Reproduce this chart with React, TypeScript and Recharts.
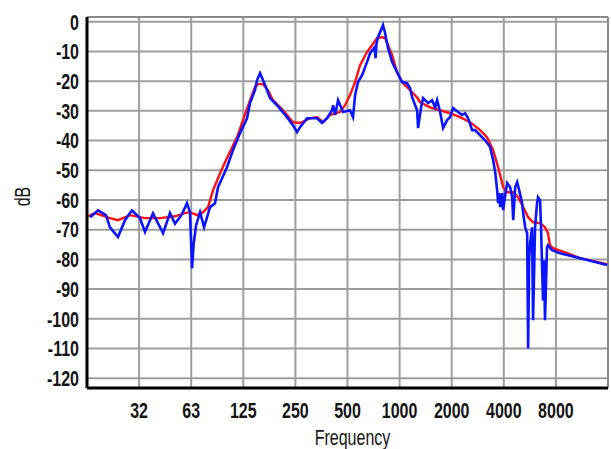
import { CartesianGrid, Label, Line, LineChart, ReferenceLine, XAxis, YAxis } from "recharts"

// frequency axis: octaves from 31.25 Hz, labelled with nominal values
const xTicks = [31.25, 62.5, 125, 250, 500, 1000, 2000, 4000, 8000]
const xLabels = ["32", "63", "125", "250", "500", "1000", "2000", "4000", "8000"]
const yTicks = [0, -10, -20, -30, -40, -50, -60, -70, -80, -90, -100, -110, -120]

// measured response (blue)
const blueFreq = [
    16.3, 18.1, 20.1, 21.2, 23.6, 25.9, 28.4, 31.6, 33.8, 37.6, 43, 47.1, 50.4, 55, 59.1, 61.5, 63.2, 64.5, 66.7,
    70.3, 74.2, 80.3, 85.8, 89.3, 100.6, 109, 119.6, 131.3, 136.7, 146, 150, 156.2, 167, 178.3, 195.7, 223.6, 242,
    255.5, 266, 292, 333.5, 356.5, 381, 407, 413, 424, 441, 471, 517, 538, 553, 575, 607, 648, 675, 718, 726, 735,
    750, 802, 824, 858, 905, 967, 1033, 1105, 1150, 1181, 1262, 1279, 1331, 1367, 1461, 1541, 1604, 1647, 1714,
    1784, 1882, 1958, 2038, 2178, 2298, 2391, 2489, 2625, 2731, 2919, 3120, 3335, 3472, 3565, 3660, 3710, 3760,
    3811, 3913, 3966, 4073, 4183, 4354, 4471, 4532, 4654, 4778, 4907, 5107, 5175, 5315, 5457, 5530, 5600, 5676,
    5827, 5904, 6063, 6225, 6308, 6478, 6565, 6739, 6830, 6921, 7107, 7201, 7592, 8456, 11045, 15800,
]
const blueDb = [
    -65.8, -63.5, -65.1, -69.2, -72.5, -66.8, -63.5, -66.1, -70.8, -64.5, -71.2, -64.4, -68, -65, -61.1, -64.1, -83,
    -75, -68.5, -64.1, -69.2, -62.4, -61.1, -55.7, -49, -43.2, -37.5, -32.5, -27.4, -23, -19.7, -17.3, -21.3, -25.7,
    -28.1, -32.1, -34.8, -37.2, -35.5, -32.5, -32.5, -34.1, -32.5, -29.8, -28.1, -31.4, -26.4, -30.4, -29.8, -32.1,
    -24.7, -20.3, -18, -13.6, -10.6, -8.6, -12.3, -7.5, -5.2, -1.1, -3.8, -8.9, -13.6, -17, -20.3, -20.7, -22.4,
    -25.4, -29.8, -35.8, -28.8, -25.7, -27.4, -26.4, -28.8, -26.4, -30.4, -35.8, -33.1, -32.1, -29.1, -30.4, -31.4,
    -30.8, -32.5, -36.5, -36.5, -38.2, -39.9, -42.2, -46.6, -50.5, -56.7, -61.1, -57.7, -62.4, -57.7, -63.4, -58.4,
    -54.3, -55.7, -59.1, -66.8, -55.7, -54, -56.7, -61.1, -64.4, -69.2, -71.2, -110, -80, -74.5, -69.2, -100.5,
    -69.2, -61.1, -59.1, -60.1, -69.2, -93.8, -80.3, -100.5, -75.9, -75.2, -76.9, -77.9, -79.6, -81.9,
]

// smoothed response (red)
const redFreq = [
    15.8, 17.4, 21.2, 23.6, 27.7, 33.8, 41.3, 50.4, 57.5, 61.5, 67.6, 73.2, 78.2, 83.6, 91.7, 100.6, 114.9, 124.5,
    136.7, 146, 151.9, 162.4, 173.7, 185.6, 212.2, 242.4, 266, 303.9, 333.5, 361, 396, 452, 484, 517, 553, 591, 648,
    693, 740, 791, 824, 858, 905, 967, 1047, 1150, 1262, 1313, 1499, 1714, 1958, 2235, 2553, 2919, 3200, 3472, 3710,
    3966, 4183, 4532, 4842, 5175, 5530, 5904, 6478, 6921, 7201, 7394, 7692, 9297, 11045, 15800,
]
const redDb = [
    -65.5, -64.4, -66.1, -66.8, -65.1, -66.1, -66.1, -65.5, -64.4, -64.1, -65.1, -64.1, -62.4, -56.7, -51, -45.9,
    -38.9, -33.1, -26.4, -22, -21, -21, -23, -26.4, -29.8, -33.8, -34.1, -32.5, -32.1, -33.8, -31.4, -30.4, -28.1,
    -24.7, -20.3, -14.6, -10.2, -7.9, -5.5, -5.2, -5.5, -7.9, -11.2, -17, -20.7, -23, -25.5, -27.1, -28.8, -29.8,
    -30.8, -32.1, -33.8, -36.5, -38.9, -43.2, -49, -55.7, -57.4, -57.4, -59.1, -62.4, -65.8, -67.5, -67.8, -69.2,
    -71.2, -75.2, -76.2, -77.9, -79.6, -81.6,
]

const blueData = blueFreq.map((f, i) => ({ f, db: blueDb[i] }))
const redData = redFreq.map((f, i) => ({ f, db: redDb[i] }))

const font = "'Liberation Sans', Arial, sans-serif"
const textStyle = { fill: "#151515", fontSize: 16, fontFamily: font, fontWeight: "bold" as const }
const stretch = 1.35 // the original text is drawn taller than it is wide

function XTick({ x, y, payload }: any) {
    const label = xLabels[xTicks.indexOf(payload.value)] ?? String(payload.value)
    return (
        <text transform={`translate(${x},${y + 6}) scale(1,${stretch})`} textAnchor="middle" dy="0.36em" {...textStyle}>
            {label}
        </text>
    )
}

function YTick({ x, y, payload }: any) {
    return (
        <text transform={`translate(${x},${y}) scale(1,${stretch})`} textAnchor="end" dy="0.36em" {...textStyle}>
            {payload.value}
        </text>
    )
}

function FreqLabel({ viewBox }: any) {
    const cx = viewBox.x + viewBox.width / 2 + 5
    const cy = viewBox.y + 49
    return (
        <text transform={`translate(${cx},${cy}) scale(1,${stretch})`} textAnchor="middle" dy="0.36em" {...textStyle} fontWeight="normal">
            Frequency
        </text>
    )
}

function DbLabel({ viewBox }: any) {
    const cx = viewBox.x + 22
    const cy = viewBox.y + viewBox.height / 2 - 6
    return (
        <text transform={`translate(${cx},${cy}) rotate(-90) scale(1,${stretch})`} textAnchor="middle" dy="0.36em" {...textStyle} fontWeight="normal">
            dB
        </text>
    )
}

export default function App() {
    return (
        <div style={{ position: "absolute", left: 0, top: 0, background: "#fff" }}>
            <LineChart width={611} height={449} margin={{ top: 17, right: 3, bottom: 0, left: 0 }}>
                <CartesianGrid stroke="#9e9e9e" strokeWidth={2} />
                <ReferenceLine y={1.6} stroke="#8a8a8a" strokeWidth={2} />
                <ReferenceLine x={16000} stroke="#8a8a8a" strokeWidth={2} />
                <XAxis
                    type="number"
                    dataKey="f"
                    scale="log"
                    domain={[15.625, 16000]}
                    ticks={xTicks}
                    allowDataOverflow
                    height={61}
                    tickLine={false}
                    tickSize={0}
                    tickMargin={16}
                    tick={<XTick />}
                    axisLine={{ stroke: "#000", strokeWidth: 3 }}
                >
                    <Label content={<FreqLabel />} />
                </XAxis>
                <YAxis
                    type="number"
                    domain={[-123.3, 1.6]}
                    ticks={yTicks}
                    allowDataOverflow
                    width={87}
                    tickLine={false}
                    tickSize={0}
                    tickMargin={8}
                    tick={<YTick />}
                    axisLine={{ stroke: "#000", strokeWidth: 3 }}
                >
                    <Label content={<DbLabel />} />
                </YAxis>
                <Line data={redData} dataKey="db" type="linear" stroke="#ff1010" strokeWidth={2.4} dot={false} isAnimationActive={false} />
                <Line data={blueData} dataKey="db" type="linear" stroke="#0a14ff" strokeWidth={2.6} dot={false} isAnimationActive={false} />
            </LineChart>
        </div>
    )
}
